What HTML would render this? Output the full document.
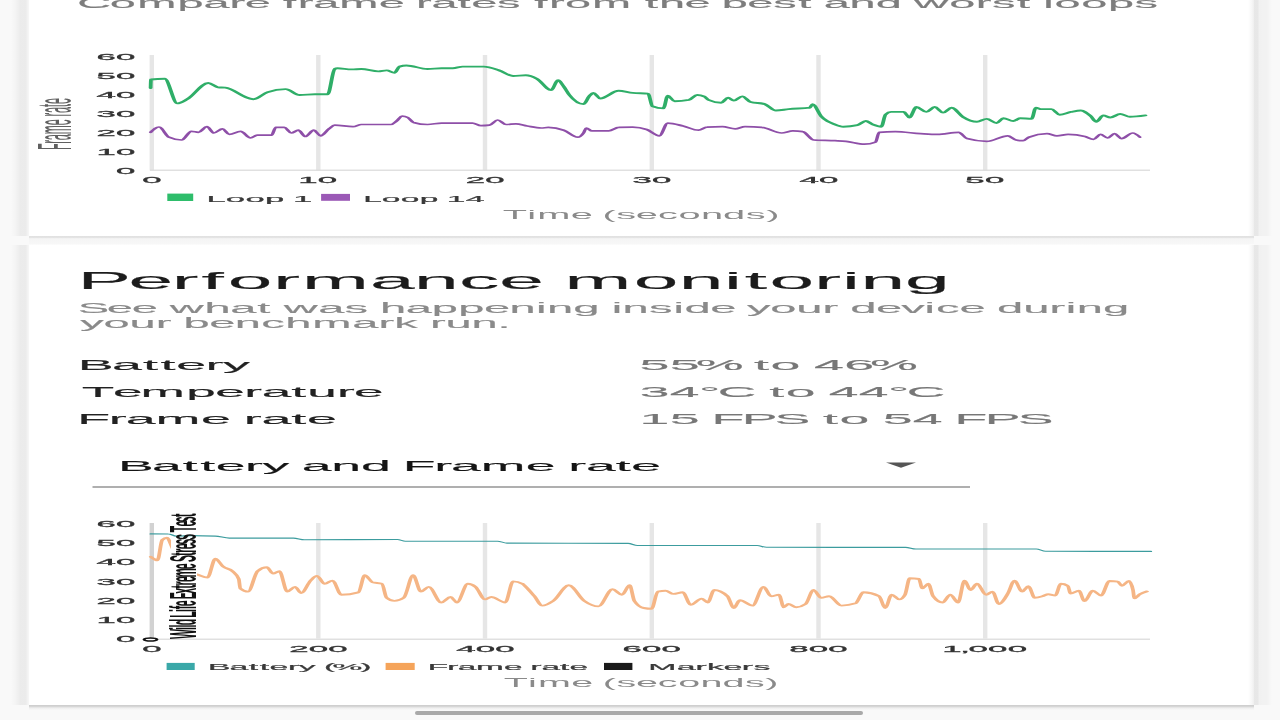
<!DOCTYPE html>
<html><head><meta charset="utf-8"><title>Performance monitoring</title><style>
html,body{margin:0;padding:0;width:1280px;height:720px;overflow:hidden;background:#f9f9f9;}
.card{position:absolute;left:28.5px;width:1225px;background:#fff;}
#c1{top:-30px;height:266px;}
#c2{top:244.8px;height:460.2px;}
.sl{position:absolute;left:11px;width:18.5px;background:linear-gradient(to right,rgba(0,0,0,0) 0%,rgba(0,0,0,0.02) 22%,rgba(0,0,0,0.056) 50%,rgba(0,0,0,0.056) 78%,rgba(0,0,0,0.018) 90%,rgba(0,0,0,0) 100%);}
.sr{position:absolute;left:1248px;width:24px;background:linear-gradient(to right,rgba(0,0,0,0) 0%,rgba(0,0,0,0.03) 15%,rgba(0,0,0,0.07) 27%,rgba(0,0,0,0.07) 40%,rgba(0,0,0,0.03) 48%,rgba(0,0,0,0.028) 79%,rgba(0,0,0,0) 100%);}
#b1{position:absolute;left:28.5px;width:1225px;top:236px;height:9px;background:linear-gradient(to bottom,#e0e0e0 0%,#e4e4e4 18%,#f5f5f5 30%,#f7f7f7 85%,#fdfdfd 100%);}
#b2{position:absolute;left:28.5px;width:1225px;top:705px;height:5px;background:linear-gradient(to bottom,#cdcdcd 0%,#d2d2d2 25%,#eeeeee 60%,#f8f8f8 100%);}
#home{position:absolute;left:415px;top:711.3px;width:447.5px;height:3.6px;border-radius:2px;background:#a9a9a9;}
svg{position:absolute;left:0;top:0;}
text{font-family:"Liberation Sans", sans-serif;}
</style></head><body>
<div id="b1"></div>
<div id="b2"></div>
<div class="card" id="c1"></div>
<div class="card" id="c2"></div>
<div class="sl" style="top:-30px;height:266px"></div>
<div class="sl" style="top:244.8px;height:460.2px"></div>
<div class="sr" style="top:-30px;height:266px"></div>
<div class="sr" style="top:244.8px;height:460.2px"></div>
<div id="home"></div>
<svg width="1280" height="720" viewBox="0 0 1280 720">
<g transform="scale(2.0,1)"><rect x="74.80" y="55" width="2.20" height="115.5" fill="#e6e6e6"/><rect x="74.80" y="523" width="2.20" height="115.5" fill="#d2d2d2"/><rect x="158.05" y="55" width="2.20" height="115.5" fill="#e6e6e6"/><rect x="158.05" y="523" width="2.20" height="115.5" fill="#e6e6e6"/><rect x="241.40" y="55" width="2.20" height="115.5" fill="#e6e6e6"/><rect x="241.40" y="523" width="2.20" height="115.5" fill="#e6e6e6"/><rect x="324.80" y="55" width="2.20" height="115.5" fill="#e6e6e6"/><rect x="324.80" y="523" width="2.20" height="115.5" fill="#e6e6e6"/><rect x="408.15" y="55" width="2.20" height="115.5" fill="#e6e6e6"/><rect x="408.15" y="523" width="2.20" height="115.5" fill="#e6e6e6"/><rect x="491.50" y="55" width="2.20" height="115.5" fill="#e6e6e6"/><rect x="491.50" y="523" width="2.20" height="115.5" fill="#e6e6e6"/><rect x="75.00" y="169.6" width="500.00" height="1.2" fill="#d9d9d9"/><rect x="75.00" y="638.6" width="500.00" height="1.2" fill="#d9d9d9"/><path d="M75.30,132.3C76.70,129.7 78.10,127.0 79.50,127.0C81.15,127.0 82.80,135.7 84.45,137.2C86.57,139.1 88.68,140.0 90.80,140.0C92.43,140.0 94.07,131.3 95.70,131.3C96.87,131.3 98.03,132.3 99.20,132.3C100.62,132.3 102.03,126.7 103.45,126.7C104.62,126.7 105.78,133.0 106.95,133.0C108.37,133.0 109.78,128.8 111.20,128.8C112.37,128.8 113.53,134.4 114.70,134.4C116.57,134.4 118.43,131.3 120.30,131.3C121.95,131.3 123.60,137.9 125.25,137.9C126.42,137.9 127.58,135.1 128.75,135.1C131.10,135.1 133.45,135.1 135.80,135.1C136.50,135.1 137.20,127.4 137.90,127.4C139.30,127.4 140.70,127.4 142.10,127.4C143.28,127.4 144.47,133.0 145.65,133.0C146.82,133.0 147.98,130.2 149.15,130.2C150.32,130.2 151.48,136.5 152.65,136.5C154.07,136.5 155.48,130.2 156.90,130.2C158.03,130.2 159.17,135.8 160.30,135.8C161.70,135.8 163.10,130.8 164.50,128.8C165.45,127.4 166.40,125.2 167.35,125.2C170.40,125.2 173.45,126.7 176.50,126.7C177.90,126.7 179.30,124.5 180.70,124.5C185.63,124.5 190.57,124.5 195.50,124.5C196.43,124.5 197.37,122.4 198.30,121.0C199.23,119.6 200.17,116.1 201.10,116.1C202.03,116.1 202.97,116.6 203.90,117.5C204.85,118.5 205.80,121.8 206.75,122.4C209.08,123.8 211.42,124.5 213.75,124.5C216.10,124.5 218.45,123.1 220.80,123.1C225.95,123.1 231.10,123.1 236.25,123.1C237.67,123.1 239.08,125.7 240.50,125.7C241.90,125.7 243.30,125.5 244.70,125.2C246.08,124.9 247.47,120.0 248.85,120.0C250.25,120.0 251.65,124.5 253.05,124.5C254.70,124.5 256.35,123.8 258.00,123.8C259.87,123.8 261.73,125.4 263.60,126.0C265.95,126.8 268.30,128.0 270.65,128.0C271.82,128.0 272.98,127.4 274.15,127.4C276.73,127.4 279.32,128.4 281.90,130.2C284.23,131.8 286.57,137.2 288.90,137.2C289.85,137.2 290.80,135.7 291.75,133.0C292.22,131.7 292.68,128.0 293.15,128.0C294.08,128.0 295.02,130.9 295.95,130.9C298.77,130.9 301.58,130.9 304.40,130.9C306.03,130.9 307.67,127.5 309.30,127.4C311.65,127.2 314.00,127.1 316.35,127.1C318.68,127.1 321.02,127.9 323.35,129.5C325.47,130.9 327.58,135.8 329.70,135.8C331.08,135.8 332.47,123.1 333.85,123.1C336.42,123.1 338.98,124.8 341.55,126.0C344.13,127.2 346.72,130.2 349.30,130.2C350.70,130.2 352.10,127.2 353.50,127.1C356.08,126.8 358.67,126.7 361.25,126.7C363.37,126.7 365.48,128.8 367.60,128.8C369.23,128.8 370.87,126.7 372.50,126.7C375.32,126.7 378.13,126.9 380.95,127.4C384.23,127.9 387.52,133.0 390.80,133.0C392.67,133.0 394.53,130.9 396.40,130.9C398.05,130.9 399.70,131.1 401.35,131.6C403.22,132.1 405.08,139.8 406.95,140.0C410.47,140.5 413.98,140.3 417.50,140.7C419.35,140.9 421.20,141.0 423.05,141.4C426.10,142.0 429.15,144.2 432.20,144.2C434.07,144.2 435.93,143.5 437.80,142.1C438.38,141.7 438.97,132.4 439.55,132.3C442.25,131.8 444.95,131.6 447.65,131.6C451.87,131.6 456.08,133.2 460.30,133.7C463.12,134.0 465.93,134.4 468.75,134.4C472.27,134.4 475.78,132.3 479.30,132.3C480.70,132.3 482.10,137.8 483.50,138.6C486.78,140.5 490.07,141.4 493.35,141.4C496.85,141.4 500.35,135.8 503.85,135.8C505.25,135.8 506.65,139.4 508.05,140.0C509.22,140.5 510.38,140.7 511.55,140.7C512.50,140.7 513.45,137.9 514.40,137.2C517.43,134.9 520.47,133.7 523.50,133.7C525.15,133.7 526.80,135.8 528.45,135.8C530.32,135.8 532.18,134.4 534.05,134.4C536.87,134.4 539.68,135.1 542.50,136.5C543.92,137.2 545.33,139.3 546.75,139.3C547.92,139.3 549.08,134.4 550.25,134.4C551.42,134.4 552.58,137.9 553.75,137.9C554.92,137.9 556.08,133.7 557.25,133.7C558.43,133.7 559.62,138.6 560.80,138.6C562.67,138.6 564.53,133.0 566.40,133.0C567.58,133.0 568.77,135.1 569.95,137.2" fill="none" stroke="#8e4fa8" stroke-width="1.7" stroke-linejoin="round" stroke-linecap="round"/><path d="M75.30,88.0C75.37,83.8 75.43,79.5 75.50,79.5C77.78,79.0 80.07,78.8 82.35,78.8C84.45,78.8 86.55,103.4 88.65,103.4C90.30,103.4 91.95,101.0 93.60,99.2C97.12,95.4 100.63,83.0 104.15,83.0C105.78,83.0 107.42,86.9 109.05,87.3C110.23,87.6 111.42,87.4 112.60,87.7C117.28,88.8 121.97,99.2 126.65,99.2C129.00,99.2 131.35,93.8 133.70,92.2C136.73,90.1 139.77,89.1 142.80,89.1C145.15,89.1 147.50,95.0 149.85,95.0C152.40,95.0 154.95,94.3 157.50,94.3C159.62,94.3 161.73,94.3 163.85,94.3C165.02,94.3 166.18,70.2 167.35,69.0C167.82,68.5 168.28,68.3 168.75,68.3C171.10,68.3 173.45,69.4 175.80,69.4C177.43,69.4 179.07,69.0 180.70,69.0C183.52,69.0 186.33,71.4 189.15,71.4C190.55,71.4 191.95,70.4 193.35,70.4C194.65,70.4 195.95,72.8 197.25,72.8C198.07,72.8 198.88,67.1 199.70,66.6C200.87,65.9 202.03,65.5 203.20,65.5C206.72,65.5 210.23,69.0 213.75,69.0C216.10,69.0 218.45,68.3 220.80,68.3C222.67,68.3 224.53,68.3 226.40,68.3C228.05,68.3 229.70,66.6 231.35,66.6C234.87,66.6 238.38,66.6 241.90,66.6C244.45,66.6 247.00,68.7 249.55,70.4C251.88,71.9 254.22,76.0 256.55,76.0C258.67,76.0 260.78,75.3 262.90,75.3C264.77,75.3 266.63,76.8 268.50,78.8C270.85,81.3 273.20,90.1 275.55,90.1C276.72,90.1 277.88,80.2 279.05,80.2C280.00,80.2 280.95,84.1 281.90,86.6C282.83,89.1 283.77,92.7 284.70,95.0C287.05,100.9 289.40,104.1 291.75,104.1C292.68,104.1 293.62,98.4 294.55,96.4C295.25,94.9 295.95,92.9 296.65,92.9C297.82,92.9 298.98,98.5 300.15,98.5C303.20,98.5 306.25,90.8 309.30,90.8C311.65,90.8 314.00,92.5 316.35,92.9C318.92,93.4 321.48,93.1 324.05,93.6C324.77,93.7 325.48,105.8 326.20,106.3C328.03,107.7 329.87,108.4 331.70,108.4C332.42,108.4 333.13,95.7 333.85,95.7C335.02,95.7 336.18,101.3 337.35,101.3C339.70,101.3 342.05,100.8 344.40,99.9C345.80,99.3 347.20,95.0 348.60,95.0C349.77,95.0 350.93,95.5 352.10,96.4C352.80,97.0 353.50,99.3 354.20,99.9C356.32,101.8 358.43,102.7 360.55,102.7C361.72,102.7 362.88,97.8 364.05,97.8C365.00,97.8 365.95,100.6 366.90,100.6C368.30,100.6 369.70,96.4 371.10,96.4C372.50,96.4 373.90,101.2 375.30,102.0C377.65,103.4 380.00,102.7 382.35,104.1C384.23,105.2 386.12,110.5 388.00,110.5C390.10,110.5 392.20,109.5 394.30,109.1C397.82,108.4 401.33,108.6 404.85,107.7C405.32,107.6 405.78,104.1 406.25,104.1C407.67,104.1 409.08,113.0 410.50,116.1C412.83,121.3 415.17,122.7 417.50,124.5C418.88,125.6 420.27,126.7 421.65,126.7C423.98,126.7 426.32,126.2 428.65,125.2C430.07,124.6 431.48,121.0 432.90,121.0C434.07,121.0 435.23,123.6 436.40,124.5C437.82,125.6 439.23,126.7 440.65,126.7C441.35,126.7 442.05,116.1 442.75,114.7C443.68,112.8 444.62,111.9 445.55,111.9C447.67,111.9 449.78,111.9 451.90,111.9C452.83,111.9 453.77,117.5 454.70,117.5C455.87,117.5 457.03,107.0 458.20,107.0C459.85,107.0 461.50,111.9 463.15,111.9C464.55,111.9 465.95,107.0 467.35,107.0C468.75,107.0 470.15,112.6 471.55,112.6C472.97,112.6 474.38,107.7 475.80,107.7C477.67,107.7 479.53,114.5 481.40,116.8C483.75,119.7 486.10,121.7 488.45,121.7C490.08,121.7 491.72,118.9 493.35,118.9C495.00,118.9 496.65,123.1 498.30,123.1C499.43,123.1 500.57,118.2 501.70,118.2C503.35,118.2 505.00,121.0 506.65,121.0C507.82,121.0 508.98,118.2 510.15,118.2C512.03,118.2 513.92,118.9 515.80,118.9C516.50,118.9 517.20,107.7 517.90,107.7C518.83,107.7 519.77,109.1 520.70,109.1C522.35,109.1 524.00,109.1 525.65,109.1C527.05,109.1 528.45,114.7 529.85,114.7C531.73,114.7 533.62,112.6 535.50,111.9C537.13,111.3 538.77,110.5 540.40,110.5C542.03,110.5 543.67,113.4 545.30,116.1C546.25,117.7 547.20,121.7 548.15,121.7C549.32,121.7 550.48,115.4 551.65,115.4C552.82,115.4 553.98,117.5 555.15,117.5C556.80,117.5 558.45,114.0 560.10,114.0C561.73,114.0 563.37,116.8 565.00,116.8C567.58,116.8 570.17,116.1 572.75,115.4" fill="none" stroke="#2fae68" stroke-width="1.9" stroke-linejoin="round" stroke-linecap="round"/><path d="M75.40,556.8C76.52,558.5 77.63,560.3 78.75,560.3C79.53,560.3 80.32,541.5 81.10,540.0C81.88,538.5 82.67,537.7 83.45,537.7C84.23,537.7 85.02,543.2 85.80,546.2C86.87,550.4 87.93,555.9 89.00,560.0C90.17,564.5 91.33,571.0 92.50,572.0C94.43,573.6 96.37,573.4 98.30,574.4C100.12,575.3 101.93,577.5 103.75,577.5C105.05,577.5 106.35,558.8 107.65,558.8C108.95,558.8 110.25,564.6 111.55,566.6C113.12,569.0 114.68,568.3 116.25,571.2C117.29,573.2 118.33,573.8 119.38,579.0C119.63,580.3 119.89,588.0 120.15,588.4C121.45,590.5 122.75,591.6 124.05,591.6C125.62,591.6 127.18,573.9 128.75,571.2C130.32,568.6 131.88,567.3 133.45,567.3C134.48,567.3 135.52,573.6 136.55,573.6C137.60,573.6 138.65,571.2 139.70,571.2C141.00,571.2 142.30,591.6 143.60,591.6C144.90,591.6 146.20,586.9 147.50,586.9C148.54,586.9 149.58,593.1 150.62,593.1C152.18,593.1 153.74,583.7 155.30,580.6C156.35,578.5 157.40,575.9 158.45,575.9C159.75,575.9 161.05,583.8 162.35,583.8C163.65,583.8 164.95,580.6 166.25,580.6C167.71,580.6 169.17,594.7 170.62,594.7C173.48,594.7 176.34,593.9 179.20,592.3C180.25,591.7 181.30,575.2 182.35,575.2C183.65,575.2 184.95,581.3 186.25,582.2C187.82,583.2 189.38,582.7 190.95,583.8C191.73,584.3 192.52,596.6 193.30,597.8C194.60,599.9 195.90,600.9 197.20,600.9C198.76,600.9 200.32,599.9 201.88,597.8C203.43,595.7 204.99,575.2 206.55,575.2C207.85,575.2 209.15,591.6 210.45,591.6C211.76,591.6 213.07,586.9 214.38,586.9C216.46,586.9 218.54,602.5 220.62,602.5C222.18,602.5 223.74,597.0 225.30,597.0C226.35,597.0 227.40,602.5 228.45,602.5C230.27,602.5 232.08,583.8 233.90,583.8C235.20,583.8 236.50,584.8 237.80,586.9C239.37,589.4 240.93,599.4 242.50,599.4C243.54,599.4 244.58,597.0 245.62,597.0C247.97,597.0 250.31,602.5 252.65,602.5C253.95,602.5 255.25,581.4 256.55,581.4C258.12,581.4 259.68,582.2 261.25,583.8C261.67,584.2 262.08,585.2 262.50,586.0C264.07,588.9 265.63,592.6 267.20,596.2C268.50,599.2 269.80,605.6 271.10,605.6C272.92,605.6 274.73,603.4 276.55,601.0C279.16,597.6 281.77,585.3 284.38,585.3C286.98,585.3 289.59,597.5 292.20,601.0C294.53,604.2 296.87,606.4 299.20,606.4C301.55,606.4 303.90,589.2 306.25,589.2C307.82,589.2 309.38,594.7 310.95,594.7C312.25,594.7 313.55,585.3 314.85,585.3C315.63,585.3 316.42,598.7 317.20,601.0C318.76,605.7 320.32,607.4 321.88,608.0C323.18,608.5 324.49,608.8 325.80,608.8C326.83,608.8 327.87,592.0 328.90,591.6C330.20,591.1 331.50,590.8 332.80,590.8C334.10,590.8 335.40,593.9 336.70,593.9C338.27,593.9 339.83,592.3 341.40,592.3C342.70,592.3 344.00,604.8 345.30,604.8C347.13,604.8 348.97,598.6 350.80,598.6C351.83,598.6 352.87,602.5 353.90,602.5C354.95,602.5 356.00,590.0 357.05,590.0C359.28,590.0 361.52,592.1 363.75,596.2C364.79,598.2 365.83,608.0 366.88,608.0C367.92,608.0 368.96,600.2 370.00,600.2C372.08,600.2 374.17,605.6 376.25,605.6C378.07,605.6 379.88,586.9 381.70,586.9C383.01,586.9 384.32,596.2 385.62,596.2C386.92,596.2 388.21,594.7 389.50,594.7C390.29,594.7 391.08,607.2 391.88,607.2C392.65,607.2 393.43,604.0 394.20,604.0C395.51,604.0 396.82,607.2 398.12,607.2C399.68,607.2 401.24,606.1 402.80,604.0C404.10,602.2 405.40,590.0 406.70,590.0C408.01,590.0 409.32,597.8 410.62,597.8C411.92,597.8 413.21,596.2 414.50,596.2C416.60,596.2 418.70,605.6 420.80,605.6C423.13,605.6 425.47,604.8 427.80,603.3C429.10,602.4 430.40,592.3 431.70,592.3C434.30,592.3 436.90,593.6 439.50,596.2C440.55,597.3 441.60,608.0 442.65,608.0C443.70,608.0 444.75,594.7 445.80,594.7C447.10,594.7 448.40,599.4 449.70,599.4C450.63,599.4 451.57,597.8 452.50,594.7C453.28,592.1 454.07,578.3 454.85,578.3C456.40,578.3 457.95,578.5 459.50,579.0C460.03,579.2 460.57,588.4 461.10,588.4C462.13,588.4 463.17,583.8 464.20,583.8C464.98,583.8 465.77,594.2 466.55,596.2C468.12,600.4 469.68,602.5 471.25,602.5C472.55,602.5 473.85,594.7 475.15,594.7C476.45,594.7 477.75,602.5 479.05,602.5C480.10,602.5 481.15,580.6 482.20,580.6C483.23,580.6 484.27,590.0 485.30,590.0C486.35,590.0 487.40,583.8 488.45,583.8C490.01,583.8 491.57,594.7 493.12,594.7C494.17,594.7 495.21,591.6 496.25,591.6C497.29,591.6 498.33,604.0 499.38,604.0C500.93,604.0 502.49,598.3 504.05,593.1C505.10,589.6 506.15,580.6 507.20,580.6C508.50,580.6 509.80,591.6 511.10,591.6C512.13,591.6 513.17,586.1 514.20,586.1C515.25,586.1 516.30,597.8 517.35,597.8C518.65,597.8 519.95,597.0 521.25,596.2C522.22,595.7 523.18,594.2 524.15,594.2C525.32,594.2 526.48,595.5 527.65,595.5C528.57,595.5 529.48,583.8 530.40,583.8C531.57,583.8 532.73,584.4 533.90,585.8C534.37,586.3 534.83,593.5 535.30,593.5C536.68,593.5 538.07,590.7 539.45,590.7C540.37,590.7 541.28,601.1 542.20,601.1C543.60,601.1 545.00,590.7 546.40,590.7C547.78,590.7 549.17,595.5 550.55,595.5C551.93,595.5 553.32,581.0 554.70,581.0C556.10,581.0 557.50,581.2 558.90,581.7C559.58,581.9 560.27,585.8 560.95,585.8C562.12,585.8 563.28,581.0 564.45,581.0C565.13,581.0 565.82,584.0 566.50,590.0C566.73,592.0 566.97,598.3 567.20,598.3C568.13,598.3 569.07,595.3 570.00,594.2C571.15,592.9 572.30,592.1 573.45,591.4" fill="none" stroke="#f5b585" stroke-width="1.9" stroke-linejoin="round" stroke-linecap="round"/><path d="M75.25,533.9C78.23,533.9 81.22,533.9 84.20,534.0C85.51,534.0 86.82,536.1 88.12,536.1C90.73,536.1 93.34,535.6 95.95,535.6C99.85,535.6 103.75,535.8 107.65,536.1C110.00,536.3 112.35,538.1 114.70,538.1C125.37,538.1 136.03,538.1 146.70,538.1C148.53,538.1 150.37,539.7 152.20,539.7C167.72,539.7 183.23,539.5 198.75,539.5C200.05,539.5 201.35,541.2 202.65,541.2C218.02,541.2 233.38,541.2 248.75,541.2C250.32,541.2 251.88,543.1 253.45,543.1C273.65,543.3 293.85,543.2 314.05,543.4C315.62,543.4 317.18,545.5 318.75,545.5C338.70,545.5 358.65,545.5 378.60,545.5C380.17,545.5 381.73,547.3 383.30,547.3C406.47,547.4 429.63,547.3 452.80,547.4C454.52,547.4 456.23,549.0 457.95,549.0C478.01,549.0 498.07,549.0 518.12,549.0C519.68,549.0 521.24,551.2 522.80,551.2C540.38,551.4 557.97,551.4 575.55,551.4" fill="none" stroke="#3c9c9e" stroke-width="1.1" stroke-linejoin="round" stroke-linecap="round"/><ellipse cx="75.25" cy="639.5" rx="3.25" ry="1.6" fill="#fff" stroke="#111" stroke-width="1.5"/></g>
<rect x="167.3" y="193.6" width="25.9" height="7.4" fill="#2ebd6b"/>
<rect x="321.1" y="193.9" width="28.9" height="6.9" fill="#9b59b6"/>
<rect x="166.6" y="662.9" width="28.1" height="7.1" fill="#3aa8a8"/>
<rect x="385.6" y="662.9" width="29.1" height="7.1" fill="#f5a45a"/>
<rect x="604" y="662.9" width="28.4" height="7.1" fill="#1a1a1a"/>
<rect x="92.5" y="486.3" width="877.5" height="1.4" fill="#8e8e8e"/>
<polygon points="886,462.6 916,462.6 901,467.8" fill="#555"/>
<g transform="translate(71.4,148.75) scale(3.937,1) rotate(-90)"><text transform="translate(-0.92,0) scale(0.8996,1)" x="-0.35 6.67 10.47 17.1 27.21 33.55 36.74 40.7 47.36 50.83" y="0" font-size="12" fill="#606060">Frame rate</text></g>
<rect x="171" y="541" width="26" height="97" fill="#fff"/>
<g transform="translate(196.0,637.6) scale(3.739,1) rotate(-90)"><text transform="translate(-0.26,0) scale(1.0572,1)" x="-0.97 7.37 9.89 11.96 17.25 19.13 24.45 27.07 29.99 34.81 36.47 41.74 46.65 49.55 52.77 57.11 64.88 69.81 71.72 77.62 80.52 83.74 88.31 92.85 97.66 99.86 105.24 109.47 114.39" y="0" font-size="10" font-weight="bold" fill="#111">Wild Life Extreme Stress Test</text></g>
<text transform="translate(78.98,7.50) scale(3.3528,1)" x="-0.5 9.21 17.4 29.41 37.15 44.89 49.41 56.68 60.85 65.27 69.89 77.62 89.41 96.81 100.53 105.15 112.92 116.97 124.69 131.6 135.77 140.18 144.99 153.04 164.8 168.83 173.03 180.6 187.99 191.71 199.35 207.07 214.53 218.56 222.15 229.82 237.64 245.27 249.16 259.57 267.5 272.31 279.77 283.8 287.63 290.98 298.97 306.89 314.83" y="0" font-size="14" fill="#7d7d7d" stroke="#7d7d7d" stroke-width="0.12">Compare frame rates from the best and worst loops</text>
<text transform="translate(206.86,201.80) scale(3.5345,1)" x="-0.09 5.35 10.93 16.48 21.81 24.41" y="0" font-size="9.8" fill="#3a3a3a" stroke="#3a3a3a" stroke-width="0.2">Loop 1</text>
<text transform="translate(363.56,201.80) scale(3.4120,1)" x="-0.09 5.35 10.93 16.48 21.81 24.41 29.92" y="0" font-size="9.8" fill="#3a3a3a" stroke="#3a3a3a" stroke-width="0.2">Loop 14</text>
<text transform="translate(503.01,219.00) scale(3.2343,1)" x="-0.09 7.47 10.6 20.95 27.45 30.74 34.99 41.08 47.9 54.28 61.18 68.05 75.03 81.37" y="0" font-size="12.3" fill="#8a8a8a">Time (seconds)</text>
<text transform="translate(78.98,289.20) scale(3.4872,1)" x="-0.42 14.21 26.63 35.16 42.68 55.7 63.94 83.46 96.07 109.08 120.55 132.7 139.26 159.09 171.99 184.98 190.9 198.02 210.82 218.79 224.09 236.9" y="0" font-size="23" fill="#1c1c1c" stroke="#1c1c1c" stroke-width="0.12">Performance monitoring</text>
<text transform="translate(79.52,312.60) scale(3.3640,1)" x="-0.51 8.13 15.56 22.95 26.84 37.12 44.78 52.82 56.85 60.74 70.97 78.78 85.69 89.33 96.99 104.73 112.59 120.23 127.81 135.72 138.95 146.74 154.36 158.19 161.42 169.29 176.55 179.86 187.52 194.92 198.41 205.32 213.07 220.86 225.36 229.09 236.75 244.25 251.2 254.62 261.6 269 272.73 280.54 288.33 293.18 296.41 304.21" y="0" font-size="14" fill="#8a8a8a" stroke="#8a8a8a" stroke-width="0.12">See what was happening inside your device during</text>
<text transform="translate(78.82,369.70) scale(3.7660,1)" x="-0.31 8.82 17.04 21.71 25.85 33.66 38.27" y="0" font-size="14.3" fill="#222" stroke="#222" stroke-width="0.12">Battery</text>
<text transform="translate(82.07,397.10) scale(3.7200,1)" x="-0.1 8.35 15.73 28 35.8 43.61 48.33 56.26 60.55 68.51 73.13" y="0" font-size="14.3" fill="#222" stroke="#222" stroke-width="0.12">Temperature</text>
<text transform="translate(78.82,423.80) scale(3.7662,1)" x="-0.42 7.94 12.48 20.38 32.42 39.97 43.77 48.49 56.42 60.56" y="0" font-size="14.3" fill="#222" stroke="#222" stroke-width="0.12">Frame rate</text>
<text transform="translate(639.36,369.70) scale(3.7647,1)" x="0.04 8.08 14.95 26.33 30.44 34.87 42.57 46.37 54.4 61.27" y="0" font-size="14.3" fill="#777" stroke="#777" stroke-width="0.12">55% to 46%</text>
<text transform="translate(639.59,397.10) scale(3.7429,1)" x="0.04 8.08 15.88 20.9 30.5 34.61 39.04 46.74 50.54 58.58 66.38 71.4" y="0" font-size="14.3" fill="#777" stroke="#777" stroke-width="0.12">34°C to 44°C</text>
<text transform="translate(639.44,423.80) scale(3.7509,1)" x="0.04 8.08 15.86 19.2 27.26 36.01 44.81 48.93 53.35 61.05 64.85 72.89 80.67 84.01 92.07 100.83" y="0" font-size="14.3" fill="#777" stroke="#777" stroke-width="0.12">15 FPS to 54 FPS</text>
<text transform="translate(119.05,470.80) scale(3.7455,1)" x="-0.31 8.82 17.04 21.71 25.85 33.66 38.27 45.14 48.81 56.65 64.63 72.42 75.77 84.13 88.66 96.56 108.6 116.15 119.95 124.67 132.61 136.75" y="0" font-size="14.3" fill="#151515" stroke="#151515" stroke-width="0.12">Battery and Frame rate</text>
<text transform="translate(208.74,670.40) scale(3.4326,1)" x="-0.22 6.04 11.67 14.88 17.72 23.07 26.23 30.93 33.55 36.09 44.11" y="0" font-size="9.8" fill="#3a3a3a" stroke="#3a3a3a" stroke-width="0.2">Battery (%)</text>
<text transform="translate(428.77,670.40) scale(3.3933,1)" x="-0.28 5.44 8.55 13.96 22.21 27.39 29.99 33.22 38.66 41.5" y="0" font-size="9.8" fill="#3a3a3a" stroke="#3a3a3a" stroke-width="0.2">Frame rate</text>
<text transform="translate(647.52,670.40) scale(3.4528,1)" x="0.2 8.49 13.91 17.24 22.04 27.3 30.67" y="0" font-size="9.8" fill="#3a3a3a" stroke="#3a3a3a" stroke-width="0.2">Markers</text>
<text transform="translate(504.01,687.30) scale(3.2117,1)" x="-0.09 7.47 10.6 20.95 27.45 30.74 34.99 41.08 47.9 54.28 61.18 68.05 75.03 81.37" y="0" font-size="12.3" fill="#8a8a8a">Time (seconds)</text>
<text transform="translate(80.93,327.70) scale(3.3640,1)" x="-0.19 6.72 14.47 22.26 26.76 30.48 38.12 45.7 53.62 60.75 68.8 80.69 88.43 93.18 100.02 103.74 108.41 116.14 123.8" y="0" font-size="14" fill="#8a8a8a" stroke="#8a8a8a" stroke-width="0.12">your benchmark run.</text>
<text transform="translate(116.01,173.50) scale(3.7854,1)" x="0.03" y="0" font-size="9.2" fill="#333" stroke="#333" stroke-width="0.3">0</text>
<text transform="translate(96.34,154.63) scale(3.7854,1)" x="0.03 5.19" y="0" font-size="9.2" fill="#333" stroke="#333" stroke-width="0.3">10</text>
<text transform="translate(96.34,135.76) scale(3.7854,1)" x="0.03 5.19" y="0" font-size="9.2" fill="#333" stroke="#333" stroke-width="0.3">20</text>
<text transform="translate(96.34,116.89) scale(3.7854,1)" x="0.03 5.19" y="0" font-size="9.2" fill="#333" stroke="#333" stroke-width="0.3">30</text>
<text transform="translate(96.34,98.02) scale(3.7854,1)" x="0.03 5.19" y="0" font-size="9.2" fill="#333" stroke="#333" stroke-width="0.3">40</text>
<text transform="translate(96.34,79.15) scale(3.7854,1)" x="0.03 5.19" y="0" font-size="9.2" fill="#333" stroke="#333" stroke-width="0.3">50</text>
<text transform="translate(96.34,60.28) scale(3.7854,1)" x="0.03 5.19" y="0" font-size="9.2" fill="#333" stroke="#333" stroke-width="0.3">60</text>
<text transform="translate(142.05,182.80) scale(3.7854,1)" x="0.03" y="0" font-size="9.2" fill="#333" stroke="#333" stroke-width="0.3">0</text>
<text transform="translate(298.19,182.80) scale(3.7854,1)" x="0.03 5.19" y="0" font-size="9.2" fill="#333" stroke="#333" stroke-width="0.3">10</text>
<text transform="translate(465.58,182.80) scale(3.7854,1)" x="0.03 5.19" y="0" font-size="9.2" fill="#333" stroke="#333" stroke-width="0.3">20</text>
<text transform="translate(632.38,182.80) scale(3.7854,1)" x="0.03 5.19" y="0" font-size="9.2" fill="#333" stroke="#333" stroke-width="0.3">30</text>
<text transform="translate(799.43,182.80) scale(3.7854,1)" x="0.03 5.19" y="0" font-size="9.2" fill="#333" stroke="#333" stroke-width="0.3">40</text>
<text transform="translate(965.26,182.80) scale(3.7854,1)" x="0.03 5.19" y="0" font-size="9.2" fill="#333" stroke="#333" stroke-width="0.3">50</text>
<text transform="translate(116.01,642.40) scale(3.7854,1)" x="0.03" y="0" font-size="9.2" fill="#333" stroke="#333" stroke-width="0.3">0</text>
<text transform="translate(96.34,623.12) scale(3.7854,1)" x="0.03 5.19" y="0" font-size="9.2" fill="#333" stroke="#333" stroke-width="0.3">10</text>
<text transform="translate(96.34,603.84) scale(3.7854,1)" x="0.03 5.19" y="0" font-size="9.2" fill="#333" stroke="#333" stroke-width="0.3">20</text>
<text transform="translate(96.34,584.56) scale(3.7854,1)" x="0.03 5.19" y="0" font-size="9.2" fill="#333" stroke="#333" stroke-width="0.3">30</text>
<text transform="translate(96.34,565.28) scale(3.7854,1)" x="0.03 5.19" y="0" font-size="9.2" fill="#333" stroke="#333" stroke-width="0.3">40</text>
<text transform="translate(96.34,546.00) scale(3.7854,1)" x="0.03 5.19" y="0" font-size="9.2" fill="#333" stroke="#333" stroke-width="0.3">50</text>
<text transform="translate(96.34,526.72) scale(3.7854,1)" x="0.03 5.19" y="0" font-size="9.2" fill="#333" stroke="#333" stroke-width="0.3">60</text>
<text transform="translate(142.05,651.60) scale(3.7854,1)" x="0.03" y="0" font-size="9.2" fill="#333" stroke="#333" stroke-width="0.3">0</text>
<text transform="translate(289.13,651.60) scale(3.7854,1)" x="0.03 5.19 10.35" y="0" font-size="9.2" fill="#333" stroke="#333" stroke-width="0.3">200</text>
<text transform="translate(456.18,651.60) scale(3.7854,1)" x="0.03 5.19 10.35" y="0" font-size="9.2" fill="#333" stroke="#333" stroke-width="0.3">400</text>
<text transform="translate(622.29,651.60) scale(3.7854,1)" x="0.03 5.19 10.35" y="0" font-size="9.2" fill="#333" stroke="#333" stroke-width="0.3">600</text>
<text transform="translate(789.16,651.60) scale(3.7854,1)" x="0.03 5.19 10.35" y="0" font-size="9.2" fill="#333" stroke="#333" stroke-width="0.3">800</text>
<text transform="translate(942.10,651.60) scale(3.7854,1)" x="0.03 4.79 7 12.16 17.33" y="0" font-size="9.2" fill="#333" stroke="#333" stroke-width="0.3">1,000</text>
</svg>
</body></html>
